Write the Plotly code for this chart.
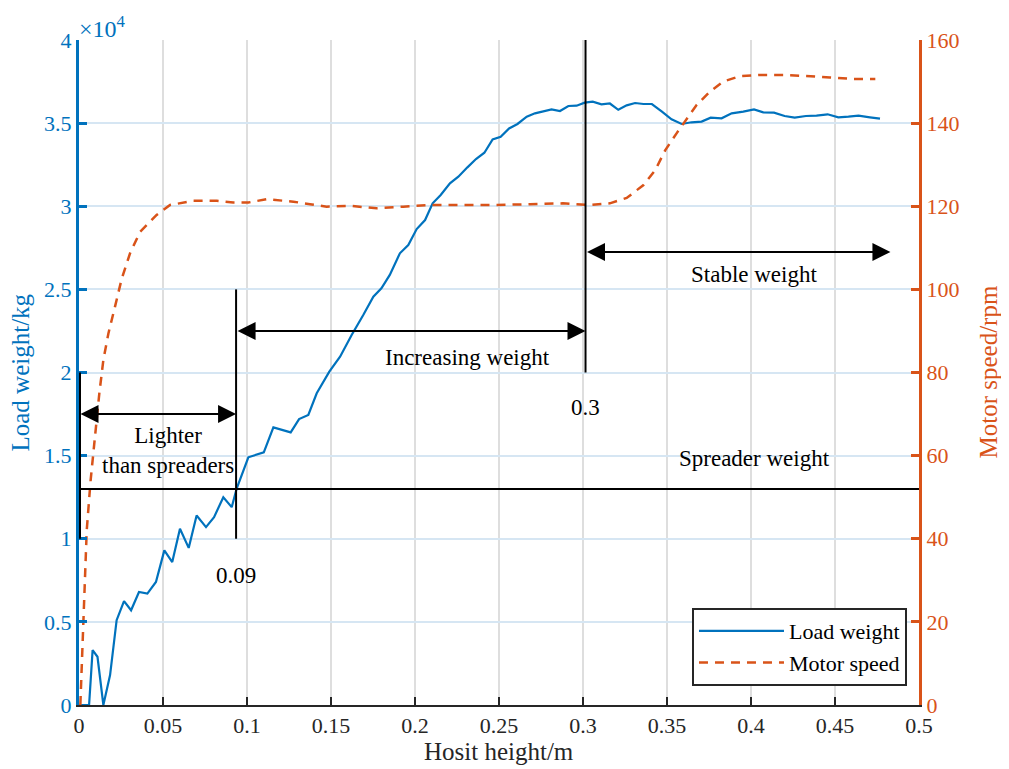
import plotly.graph_objects as go

# ---------------- data ----------------
load_x = [0, 0.006, 0.0081, 0.011, 0.0145, 0.0185, 0.0224, 0.0268, 0.031, 0.0357,
          0.0407, 0.0458, 0.0508, 0.0555, 0.0601, 0.0653, 0.070, 0.0756, 0.0804, 0.0859,
          0.0909, 0.0938, 0.1008, 0.110, 0.1157, 0.126, 0.131, 0.1365, 0.1415, 0.146,
          0.149, 0.1554, 0.1623, 0.1692, 0.1752, 0.180, 0.185, 0.191, 0.196, 0.201,
          0.206, 0.2105, 0.2153, 0.2208, 0.2258, 0.2312, 0.2363, 0.2413, 0.2462, 0.251,
          0.256, 0.261, 0.2665, 0.2714, 0.2764, 0.2813, 0.2863, 0.2913, 0.2962, 0.301,
          0.3058, 0.311, 0.316, 0.321, 0.326, 0.331, 0.336, 0.341, 0.347, 0.3527,
          0.3587, 0.3646, 0.3706, 0.376, 0.3825, 0.3885, 0.3954, 0.4018, 0.4073, 0.4137,
          0.420, 0.426, 0.4327, 0.439, 0.4456, 0.452, 0.458, 0.464, 0.4708, 0.4768]
load_kg = [0, 0, 3300, 2900, 0, 1800, 5100, 6250, 5700, 6800,
           6700, 7400, 9300, 8600, 10600, 9450, 11400, 10700, 11300, 12500,
           11900, 13000, 14900, 15200, 16700, 16400, 17200, 17450, 18750, 19550,
           20050, 20950, 22260, 23460, 24560, 25060, 25870, 27170, 27670, 28630,
           29170, 30180, 30680, 31380, 31780, 32340, 32840, 33220, 34020, 34180,
           34680, 34950, 35390, 35590, 35690, 35830, 35730, 36030, 36050, 36230,
           36290, 36130, 36180, 35800, 36070, 36210, 36150, 36150, 35690, 35230,
           34950, 35050, 35090, 35330, 35290, 35590, 35690, 35830, 35650, 35630,
           35430, 35330, 35430, 35450, 35530, 35350, 35390, 35450, 35350, 35270]

speed_x = [0.0008, 0.002, 0.003, 0.0046, 0.0069, 0.0095, 0.0121, 0.0145, 0.0175, 0.0214,
           0.0254, 0.0304, 0.0363, 0.0462, 0.0542, 0.068, 0.082, 0.0918, 0.1008, 0.1117,
           0.1276, 0.1375, 0.1474, 0.1613, 0.1772, 0.193, 0.209, 0.2288, 0.2486, 0.2685,
           0.288, 0.304, 0.316, 0.326, 0.336, 0.343, 0.349, 0.3558, 0.3607, 0.3677,
           0.3756, 0.3835, 0.3935, 0.405, 0.421, 0.433, 0.447, 0.461, 0.474]
speed_rpm = [0, 12, 24, 42, 54, 65.4, 75, 83, 89.4, 95.8,
             102.5, 108.7, 113.8, 117.9, 120.3, 121.3, 121.3, 120.9, 120.9, 121.7,
             121.1, 120.5, 119.9, 120.1, 119.5, 119.9, 120.3, 120.3, 120.3, 120.5,
             120.7, 120.3, 120.7, 122.0, 125.1, 128.7, 133.5, 137.6, 140.4, 144.4,
             147.6, 150.0, 151.3, 151.6, 151.6, 151.4, 151.0, 150.6, 150.6]

x_ticks = [0, 0.05, 0.1, 0.15, 0.2, 0.25, 0.3, 0.35, 0.4, 0.45, 0.5]
x_ticktext = ["0", "0.05", "0.1", "0.15", "0.2", "0.25", "0.3", "0.35", "0.4", "0.45", "0.5"]
y_ticks = [0, 5000, 10000, 15000, 20000, 25000, 30000, 35000, 40000]
y_ticktext = ["0", "0.5", "1", "1.5", "2", "2.5", "3", "3.5", "4"]
y2_ticks = [0, 20, 40, 60, 80, 100, 120, 140, 160]

# markers (positions of reference lines / arrows, in data units)
mark_x1 = 0.0935
mark_x2 = 0.3015
spreader_kg = 13000

BLUE = "#0072BD"
ORANGE = "#D95319"
DARK = "#262626"
FONT = "Liberation Serif"

fig = go.Figure()
fig.add_trace(go.Scatter(x=load_x, y=load_kg, mode="lines", name="Load weight",
                         line=dict(color=BLUE, width=2.2)))
fig.add_trace(go.Scatter(x=speed_x, y=speed_rpm, mode="lines", name="Motor speed",
                         yaxis="y2", line=dict(color=ORANGE, width=2.5, dash="9px,7px")))

# black reference lines
shape_line = dict(color="black", width=2)
fig.add_shape(type="line", xref="x", yref="y", x0=0, x1=0.5, y0=spreader_kg, y1=spreader_kg, line=shape_line)
fig.add_shape(type="line", xref="x", yref="y", x0=mark_x1, x1=mark_x1, y0=10000, y1=25000, line=shape_line)
fig.add_shape(type="line", xref="x", yref="y", x0=mark_x2, x1=mark_x2, y0=20000, y1=40000, line=shape_line)
fig.add_shape(type="line", xref="x", yref="y", x0=0.0006, x1=0.0006, y0=10000, y1=20000, line=shape_line)

# double-headed arrows
def darrow(x0, x1, y):
    fig.add_annotation(x=x1, y=y, ax=x0, ay=y, xref="x", yref="y", axref="x", ayref="y",
                       text="", showarrow=True, arrowside="end+start", arrowhead=2,
                       startarrowhead=2, arrowsize=1.8, startarrowsize=1.8,
                       arrowwidth=2, arrowcolor="black", standoff=0, startstandoff=0)

darrow(0, mark_x1, 17500)
darrow(mark_x1, mark_x2, 22500)
darrow(mark_x2, 0.483, 27250)

tfont = dict(family=FONT, size=23, color="black")
texts = [
    (0.053, 15300, "Lighter<br>than spreaders"),
    (0.231, 20900, "Increasing weight"),
    (0.402, 25900, "Stable weight"),
    (0.402, 14800, "Spreader weight"),
    (mark_x1, 7800, "0.09"),
    (mark_x2, 17900, "0.3"),
]
for tx, ty, tt in texts:
    fig.add_annotation(x=tx, y=ty, xref="x", yref="y", text=tt, showarrow=False,
                       font=tfont, xanchor="center", yanchor="middle")

fig.add_annotation(x=0, y=1, xref="paper", yref="paper", text="×10<sup>4</sup>",
                   showarrow=False, xanchor="left", yanchor="bottom", xshift=-2, yshift=-4,
                   font=dict(family=FONT, size=24, color=BLUE))

# axis titles
fig.add_annotation(x=0, y=0.5, xref="paper", yref="paper", text="Load weight/kg",
                   showarrow=False, textangle=-90, xanchor="center", yanchor="middle", xshift=-59,
                   font=dict(family=FONT, size=25, color=BLUE))
fig.add_annotation(x=1, y=0.5, xref="paper", yref="paper", text="Motor speed/rpm",
                   showarrow=False, textangle=-90, xanchor="center", yanchor="middle", xshift=69,
                   font=dict(family=FONT, size=25, color=ORANGE))
fig.add_annotation(x=0.5, y=0, xref="paper", yref="paper", text="Hosit height/m",
                   showarrow=False, xanchor="center", yanchor="middle", yshift=-46,
                   font=dict(family=FONT, size=25, color=DARK))

# the page body adds an 8px offset, so the figure is sized 8px smaller
fig.update_layout(
    width=1001, height=761,
    margin=dict(l=71, r=90, t=32, b=64),
    paper_bgcolor="white", plot_bgcolor="white",
    font=dict(family=FONT, size=22, color=DARK),
    showlegend=True,
    legend=dict(x=0.9857, y=0.0286, xanchor="right", yanchor="bottom",
                bgcolor="white", bordercolor=DARK, borderwidth=2,
                font=dict(family=FONT, size=22, color="black"),
                itemwidth=85, tracegroupgap=0),
    xaxis=dict(range=[0, 0.5], tickvals=x_ticks, ticktext=x_ticktext,
               showgrid=True, gridcolor="#dedede", gridwidth=2,
               showline=True, linecolor=DARK, linewidth=2,
               ticks="inside", ticklen=8, tickwidth=2, tickcolor=DARK,
               zeroline=False, automargin=False,
               tickfont=dict(family=FONT, size=22, color=DARK)),
    yaxis=dict(range=[0, 40000], tickvals=y_ticks, ticktext=y_ticktext,
               showgrid=True, gridcolor="#d6e6f3", gridwidth=2,
               showline=True, linecolor=BLUE, linewidth=3,
               ticks="inside", ticklen=8, tickwidth=3, tickcolor=BLUE,
               zeroline=False, automargin=False,
               tickfont=dict(family=FONT, size=22, color=BLUE)),
    yaxis2=dict(range=[0, 160], tickvals=y2_ticks, overlaying="y", side="right",
                showgrid=False, showline=True, linecolor=ORANGE, linewidth=3,
                ticks="inside", ticklen=8, tickwidth=3, tickcolor=ORANGE,
                zeroline=False, automargin=False,
                tickfont=dict(family=FONT, size=22, color=ORANGE)),
)

fig.write_html("out.html")
